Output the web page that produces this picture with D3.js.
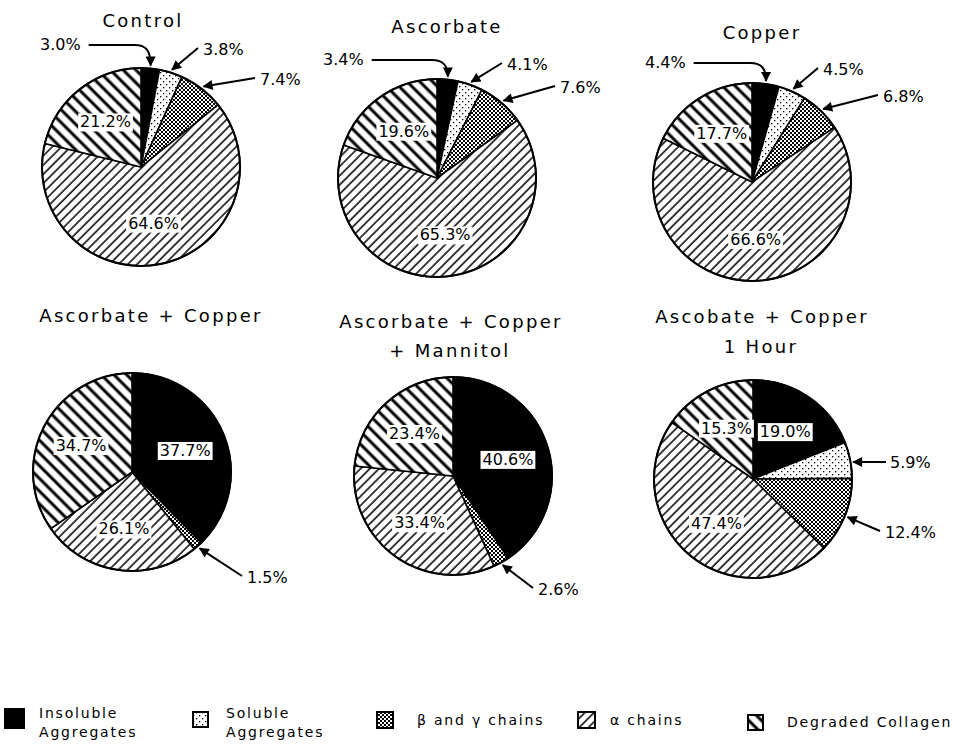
<!DOCTYPE html>
<html>
<head>
<meta charset="utf-8">
<script src="https://cdn.jsdelivr.net/npm/d3@7"></script>
<style>
  html, body { margin: 0; padding: 0; background: #fff; }
  svg { display: block; }
  text { font-family: "DejaVu Sans", sans-serif; fill: #000; }
</style>
</head>
<body>
<svg id="chart" width="953" height="748"></svg>
<script>
// ---------- DATA ----------
const categories = ["Insoluble Aggregates", "Soluble Aggregates", "β and γ chains", "α chains", "Degraded Collagen"];
const panelTitles = [
  ["Control"],
  ["Ascorbate"],
  ["Copper"],
  ["Ascorbate +  Copper"],
  ["Ascorbate + Copper", "+ Mannitol"],
  ["Ascobate + Copper", "1 Hour"]
];
const control           = [3.0, 3.8, 7.4, 64.6, 21.2];
const ascorbate         = [3.4, 4.1, 7.6, 65.3, 19.6];
const copper            = [4.4, 4.5, 6.8, 66.6, 17.7];
const ascCopper         = [37.7, 0, 1.5, 26.1, 34.7];
const ascCopperMannitol = [40.6, 0, 2.6, 33.4, 23.4];
const ascCopper1h       = [19.0, 5.9, 12.4, 47.4, 15.3];
const seriesValues = [control, ascorbate, copper, ascCopper, ascCopperMannitol, ascCopper1h];

// ---------- LAYOUT ----------
const R = 99;
const centers = [[141, 167], [437, 178], [752, 182], [132, 472], [453, 476], [753, 479]];
const titlePos = [
  [[143, 27]],
  [[447, 33]],
  [[762, 39]],
  [[151, 322]],
  [[451, 328], [450, 357]],
  [[762, 323], [761, 353]]
];
// outside-label placement (text left/baseline relative to pie centre); bent = curved leader from left
const outside = [
  [{s:0, dx:-101, dy:-117, bent:true}, {s:1, dx:62, dy:-112}, {s:2, dx:119, dy:-82}],
  [{s:0, dx:-114, dy:-113, bent:true}, {s:1, dx:70, dy:-108}, {s:2, dx:123, dy:-85}],
  [{s:0, dx:-107, dy:-114, bent:true}, {s:1, dx:71, dy:-107}, {s:2, dx:131, dy:-80}],
  [{s:2, dx:115, dy:111}],
  [{s:2, dx:85, dy:119}],
  [{s:1, dx:137, dy:-11, horiz:true}, {s:2, dx:132, dy:59}]
];

const svg = d3.select("#chart");
const defs = svg.append("defs");

// patterns
const fills = ["#000", "url(#pSol)", "url(#pBeta)", "url(#pAlpha)", "url(#pDeg)"];
{
  const p = defs.append("pattern").attr("id", "pSol").attr("patternUnits", "userSpaceOnUse")
    .attr("width", 6).attr("height", 6);
  p.append("rect").attr("width", 6).attr("height", 6).attr("fill", "#fff");
  p.append("rect").attr("x", 1).attr("y", 1).attr("width", 1.3).attr("height", 1.3).attr("fill", "#000");
  p.append("rect").attr("x", 4).attr("y", 4).attr("width", 1.3).attr("height", 1.3).attr("fill", "#000");
}
{
  const p = defs.append("pattern").attr("id", "pBeta").attr("patternUnits", "userSpaceOnUse")
    .attr("width", 4).attr("height", 4);
  p.append("rect").attr("width", 4).attr("height", 4).attr("fill", "#fff");
  p.append("rect").attr("x", 0).attr("y", 0).attr("width", 2).attr("height", 2).attr("fill", "#000");
  p.append("rect").attr("x", 2).attr("y", 2).attr("width", 2).attr("height", 2).attr("fill", "#000");
}
{
  const p = defs.append("pattern").attr("id", "pAlpha").attr("patternUnits", "userSpaceOnUse")
    .attr("width", 6.5).attr("height", 6.5).attr("patternTransform", "rotate(45)");
  p.append("rect").attr("width", 6.5).attr("height", 6.5).attr("fill", "#fff");
  p.append("line").attr("x1", 1).attr("x2", 1).attr("y1", 0).attr("y2", 6.5)
    .attr("stroke", "#000").attr("stroke-width", 1.5);
}
{
  const p = defs.append("pattern").attr("id", "pDeg").attr("patternUnits", "userSpaceOnUse")
    .attr("width", 9).attr("height", 9).attr("patternTransform", "rotate(-45)");
  p.append("rect").attr("width", 9).attr("height", 9).attr("fill", "#fff");
  p.append("line").attr("x1", 2).attr("x2", 2).attr("y1", 0).attr("y2", 9)
    .attr("stroke", "#000").attr("stroke-width", 3);
}
defs.append("marker").attr("id", "arrow").attr("viewBox", "0 0 10 10")
  .attr("refX", 9).attr("refY", 5).attr("markerWidth", 12).attr("markerHeight", 10)
  .attr("markerUnits", "userSpaceOnUse").attr("orient", "auto")
  .append("path").attr("d", "M0,0 L10,5 L0,10 Z").attr("fill", "#000");

const pie = d3.pie().sort(null).value(d => d);
const arc = d3.arc().innerRadius(0).outerRadius(R);
const labelArc = d3.arc().innerRadius(R * 0.58).outerRadius(R * 0.58);
const tipArc = d3.arc().innerRadius(R + 3).outerRadius(R + 3);
const fmt = d => d3.format(".1f")(d) + "%";

seriesValues.forEach((vals, i) => {
  const [cx, cy] = centers[i];
  const g = svg.append("g").attr("transform", `translate(${cx},${cy})`);
  const arcs = pie(vals).map((a, k) => Object.assign(a, {k})).filter(a => a.value > 0);

  g.selectAll("path.slice").data(arcs).join("path")
    .attr("class", "slice")
    .attr("d", arc)
    .attr("fill", d => fills[d.k])
    .attr("stroke", "#000").attr("stroke-width", 1.6).attr("stroke-linejoin", "round");
  g.append("circle").attr("r", R).attr("fill", "none").attr("stroke", "#000").attr("stroke-width", 2);

  // inside labels
  arcs.filter(a => a.value >= 15).forEach(a => {
    const [lx, ly] = labelArc.centroid(a);
    const t = g.append("text").attr("x", lx).attr("y", ly).attr("dy", "0.35em")
      .attr("text-anchor", "middle").attr("font-size", 16).text(fmt(a.value));
    const b = t.node().getBBox();
    g.insert("rect", () => t.node())
      .attr("x", b.x - 2).attr("y", b.y + 1).attr("width", b.width + 4).attr("height", b.height - 1)
      .attr("fill", "#fff");
  });

  // outside labels with leaders
  outside[i].forEach(o => {
    const a = arcs.find(x => x.k === o.s);
    const [tx, ty] = tipArc.centroid(a);
    const t = g.append("text").attr("x", o.dx).attr("y", o.dy).attr("font-size", 16).text(fmt(a.value));
    const b = t.node().getBBox();
    let d;
    if (o.bent) {
      const sx = b.x + b.width + 8, sy = o.dy - 5;
      d = `M${sx},${sy} H${tx - 16} C${tx - 4},${sy} ${tx},${sy + 6} ${tx},${ty}`;
    } else if (o.horiz) {
      const sx = o.dx - 4, sy = o.dy - 6;
      d = `M${sx},${sy} L${tx},${sy}`;
    } else {
      const sx = o.dx - 5, sy = o.dy - 7;
      d = `M${sx},${sy} L${tx},${ty}`;
    }
    g.append("path").attr("d", d).attr("fill", "none").attr("stroke", "#000")
      .attr("stroke-width", 2).attr("marker-end", "url(#arrow)");
  });

  // titles
  panelTitles[i].forEach((line, j) => {
    svg.append("text").attr("x", titlePos[i][j][0]).attr("y", titlePos[i][j][1])
      .attr("text-anchor", "middle").attr("font-size", 18).attr("letter-spacing", 2.3)
      .text(line);
  });
});

// ---------- LEGEND ----------
const legendLayout = [
  {box:[4, 708, 21, 21], text:[39, 718], lines:["Insoluble", "Aggregates"]},
  {box:[193, 712, 15, 15], text:[226, 718], lines:["Soluble", "Aggregates"]},
  {box:[377, 712, 16, 16], text:[417, 725], lines:["β and γ chains"]},
  {box:[578, 712, 17, 16], text:[610, 725], lines:["α chains"]},
  {box:[748, 715, 15, 15], text:[787, 727], lines:["Degraded Collagen"]}
];
const lg = svg.append("g");
categories.forEach((c, k) => {
  const L = legendLayout[k];
  lg.append("rect").attr("x", L.box[0]).attr("y", L.box[1]).attr("width", L.box[2]).attr("height", L.box[3])
    .attr("fill", fills[k]).attr("stroke", "#000").attr("stroke-width", k === 0 ? 0 : 2);
  L.lines.forEach((ln, j) => {
    lg.append("text").attr("x", L.text[0]).attr("y", L.text[1] + j * 19)
      .attr("font-size", 14).attr("letter-spacing", 1.8).text(ln);
  });
});
</script>
</body>
</html>
